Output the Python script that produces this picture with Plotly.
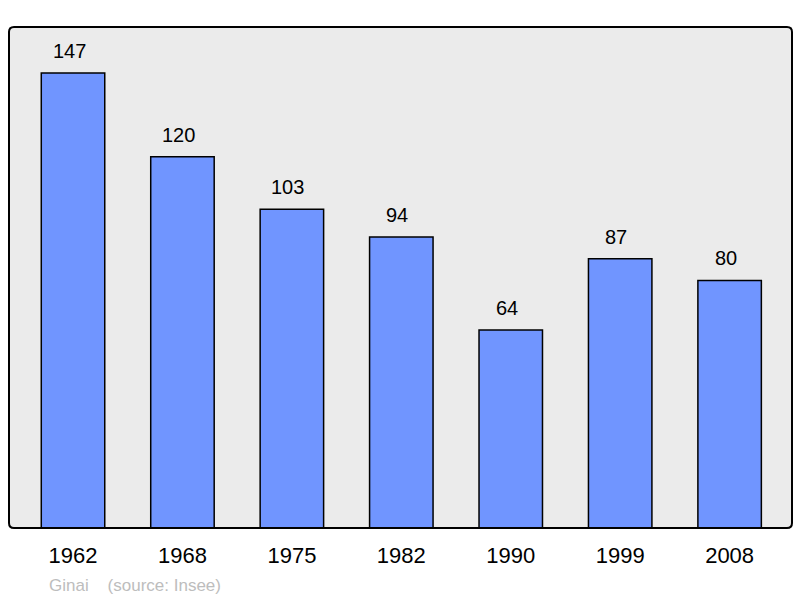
import plotly.graph_objects as go

years = ["1962", "1968", "1975", "1982", "1990", "1999", "2008"]
population = [147, 120, 103, 94, 64, 87, 80]
source_text = "Ginai &nbsp;&nbsp; (source: Insee)"

fig = go.Figure()
fig.add_trace(go.Bar(
    x=years, y=population, width=0.58,
    marker=dict(color="#7095ff", line=dict(color="#000000", width=1.5)),
    hoverinfo="skip",
))

for i, v in enumerate(population):
    fig.add_annotation(x=i, y=v, text=str(v), showarrow=False, yshift=22, xshift=-4,
                       yanchor="middle", font=dict(size=20, color="#000000",
                       family="Liberation Sans, Arial, sans-serif"))

fig.add_annotation(xref="paper", yref="paper", x=0.049, y=-0.114, xanchor="left",
                   yanchor="middle", text=source_text, showarrow=False,
                   font=dict(size=17, color="#bdbdbd", family="Liberation Sans, Arial, sans-serif"))

rx, ry = 5 / 783, 5 / 501
frame = (f"M {rx},0 L {1-rx},0 Q 1,0 1,{ry} L 1,{1-ry} Q 1,1 {1-rx},1 "
         f"L {rx},1 Q 0,1 0,{1-ry} L 0,{ry} Q 0,0 {rx},0 Z")
fig.add_shape(type="path", xref="paper", yref="paper", path=frame,
              line=dict(color="#000000", width=2), layer="above")

fig.update_layout(
    width=800, height=598,
    margin=dict(l=9, r=8, t=27, b=70),
    paper_bgcolor="#ffffff", plot_bgcolor="#ebebeb",
    showlegend=False,
    font=dict(family="Liberation Sans, Arial, sans-serif", color="#000000"),
    xaxis=dict(type="category", range=[-0.585, 6.57], showgrid=False, zeroline=False,
               ticks="outside", ticklen=8, tickcolor="rgba(0,0,0,0)",
               tickfont=dict(size=22, color="#000000")),
    yaxis=dict(range=[0, 161.9], showgrid=False, zeroline=False, showticklabels=False,
               ticks=""),
)

fig.write_html("out.html", config={"displayModeBar": False},
               post_script="document.body.style.margin='0';document.body.style.overflow='hidden';")
